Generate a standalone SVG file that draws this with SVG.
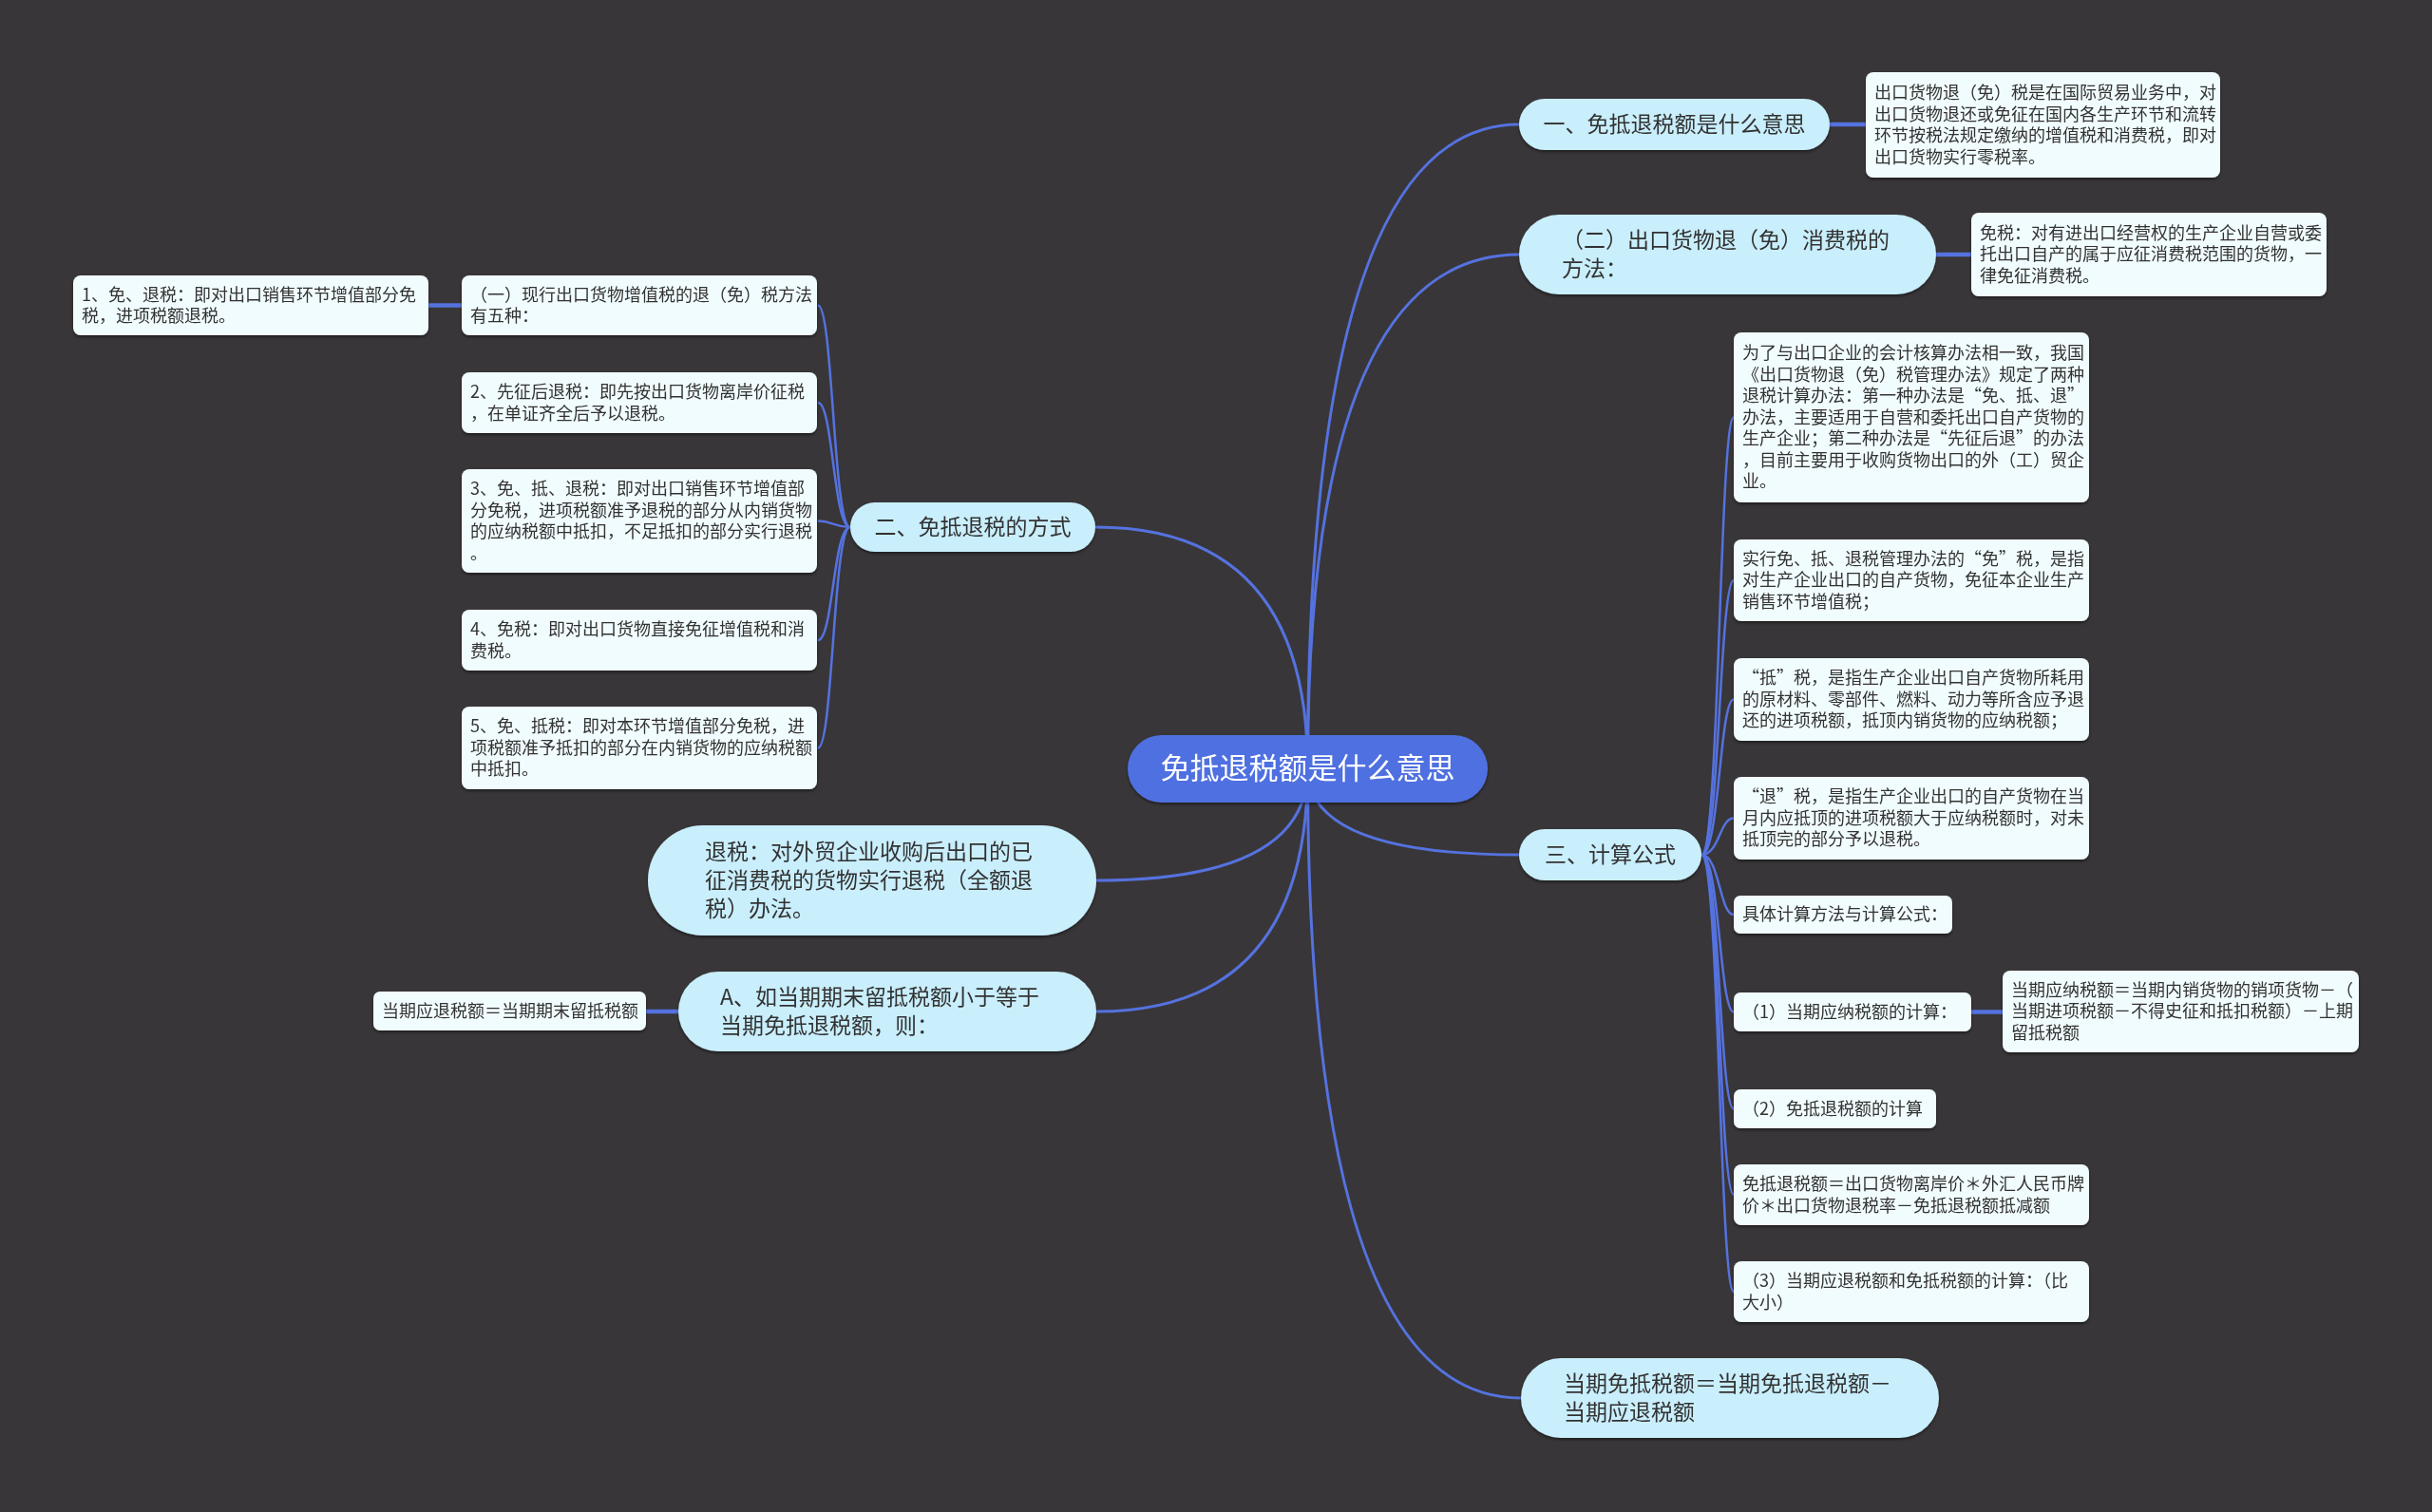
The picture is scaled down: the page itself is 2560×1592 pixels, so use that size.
<svg xmlns="http://www.w3.org/2000/svg" width="2560" height="1592" viewBox="0 0 2560 1592">
<style>
text{font-family:"Noto Sans CJK SC","Noto Sans",sans-serif;fill:#333333}
.root rect{fill:#4f6fe0}
.root text{fill:#ffffff;font-size:31px}
.l1 rect{fill:#c9eefc}
.l1 text{font-size:23px}
.note rect{fill:#f1fcfe}
.note text{font-size:18px}
.nd{filter:url(#sh)}
.e0{fill:none;stroke:#5572df;stroke-width:3}
.e1{fill:none;stroke:#5572df;stroke-width:2.5}
.e2{fill:none;stroke:#5572df;stroke-width:4.5}
</style>
<defs>
<filter id="sh" x="-5%" y="-10%" width="110%" height="130%">
<feDropShadow dx="0" dy="2" stdDeviation="1.5" flood-color="#000" flood-opacity="0.45"/>
</filter>
</defs>
<rect x="0" y="0" width="2560" height="1592" fill="#383638"/>
<g id="connectors">
<path class="e0" d="M1376.5,809.5 Q1376.5,131 1599,131"/>
<path class="e0" d="M1376.5,809.5 Q1376.5,268 1599,268"/>
<path class="e0" d="M1376.5,809.5 Q1376.5,900 1599,900"/>
<path class="e0" d="M1376.5,809.5 Q1376.5,1472 1601,1472"/>
<path class="e0" d="M1376.5,809.5 Q1376.5,555 1153,555"/>
<path class="e0" d="M1376.5,809.5 Q1376.5,927 1154,927"/>
<path class="e0" d="M1376.5,809.5 Q1376.5,1065 1154,1065"/>
<path class="e1" d="M1791,900 C1810,900 1810,439.5 1825,439.5"/>
<path class="e1" d="M1791,900 C1810,900 1810,611 1825,611"/>
<path class="e1" d="M1791,900 C1810,900 1810,736.5 1825,736.5"/>
<path class="e1" d="M1791,900 C1810,900 1810,861.5 1825,861.5"/>
<path class="e1" d="M1791,900 C1810,900 1810,963 1825,963"/>
<path class="e1" d="M1791,900 C1810,900 1810,1065.5 1825,1065.5"/>
<path class="e1" d="M1791,900 C1810,900 1810,1167.5 1825,1167.5"/>
<path class="e1" d="M1791,900 C1810,900 1810,1258 1825,1258"/>
<path class="e1" d="M1791,900 C1810,900 1810,1360 1825,1360"/>
<path class="e1" d="M895,555 C877,555 877,321.5 861,321.5"/>
<path class="e1" d="M895,555 C877,555 877,424 861,424"/>
<path class="e1" d="M895,555 C877,555 877,548.5 861,548.5"/>
<path class="e1" d="M895,555 C877,555 877,674 861,674"/>
<path class="e1" d="M895,555 C877,555 877,787.5 861,787.5"/>
<path class="e2" d="M1926,131 L1964,131"/>
<path class="e2" d="M2038,268 L2075,268"/>
<path class="e2" d="M2075,1065.5 L2108,1065.5"/>
<path class="e2" d="M486,321.5 L451,321.5"/>
<path class="e2" d="M714,1065 L680,1065"/>
</g>
<g id="root" class="root nd">
<rect x="1187" y="774" width="379" height="71" rx="35.5"/>
<text x="1376.5" y="820" text-anchor="middle">免抵退税额是什么意思</text>
</g>
<g id="n1" class="l1 nd">
<rect x="1599" y="104" width="327" height="54" rx="27"/>
<text x="1762.5" y="139" text-anchor="middle">一、免抵退税额是什么意思</text>
</g>
<g id="n1a" class="note nd">
<rect x="1964" y="76" width="373" height="111" rx="8"/>
<text><tspan x="1973" y="104">出口货物退（免）税是在国际贸易业务中，对</tspan><tspan x="1973" y="126.5">出口货物退还或免征在国内各生产环节和流转</tspan><tspan x="1973" y="149">环节按税法规定缴纳的增值税和消费税，即对</tspan><tspan x="1973" y="171.5">出口货物实行零税率。</tspan></text>
</g>
<g id="n2" class="l1 nd">
<rect x="1599" y="226" width="439" height="84" rx="42"/>
<text><tspan x="1644" y="261">（二）出口货物退（免）消费税的</tspan><tspan x="1644" y="291">方法：</tspan></text>
</g>
<g id="n2a" class="note nd">
<rect x="2075" y="224" width="374" height="88" rx="8"/>
<text><tspan x="2084" y="251.8">免税：对有进出口经营权的生产企业自营或委</tspan><tspan x="2084" y="274.3">托出口自产的属于应征消费税范围的货物，一</tspan><tspan x="2084" y="296.8">律免征消费税。</tspan></text>
</g>
<g id="n3" class="l1 nd">
<rect x="1599" y="873" width="192" height="54" rx="27"/>
<text x="1695" y="908" text-anchor="middle">三、计算公式</text>
</g>
<g id="c1" class="note nd">
<rect x="1825" y="350" width="374" height="179" rx="8"/>
<text><tspan x="1834" y="378.3">为了与出口企业的会计核算办法相一致，我国</tspan><tspan x="1834" y="400.8">《出口货物退（免）税管理办法》规定了两种</tspan><tspan x="1834" y="423.3">退税计算办法：第一种办法是“免、抵、退”</tspan><tspan x="1834" y="445.8">办法，主要适用于自营和委托出口自产货物的</tspan><tspan x="1834" y="468.3">生产企业；第二种办法是“先征后退”的办法</tspan><tspan x="1834" y="490.8">，目前主要用于收购货物出口的外（工）贸企</tspan><tspan x="1834" y="513.3">业。</tspan></text>
</g>
<g id="c2" class="note nd">
<rect x="1825" y="568" width="374" height="86" rx="8"/>
<text><tspan x="1834" y="594.8">实行免、抵、退税管理办法的“免”税，是指</tspan><tspan x="1834" y="617.3">对生产企业出口的自产货物，免征本企业生产</tspan><tspan x="1834" y="639.8">销售环节增值税；</tspan></text>
</g>
<g id="c3" class="note nd">
<rect x="1825" y="693" width="374" height="87" rx="8"/>
<text><tspan x="1834" y="720.3">“抵”税，是指生产企业出口自产货物所耗用</tspan><tspan x="1834" y="742.8">的原材料、零部件、燃料、动力等所含应予退</tspan><tspan x="1834" y="765.3">还的进项税额，抵顶内销货物的应纳税额；</tspan></text>
</g>
<g id="c4" class="note nd">
<rect x="1825" y="818" width="374" height="87" rx="8"/>
<text><tspan x="1834" y="845.3">“退”税，是指生产企业出口的自产货物在当</tspan><tspan x="1834" y="867.8">月内应抵顶的进项税额大于应纳税额时，对未</tspan><tspan x="1834" y="890.3">抵顶完的部分予以退税。</tspan></text>
</g>
<g id="c5" class="note nd">
<rect x="1825" y="943" width="230" height="40" rx="7"/>
<text x="1834" y="969.3">具体计算方法与计算公式：</text>
</g>
<g id="c6" class="note nd">
<rect x="1825" y="1045" width="250" height="41" rx="7"/>
<text x="1834" y="1071.8">（1）当期应纳税额的计算：</text>
</g>
<g id="c6a" class="note nd">
<rect x="2108" y="1022" width="375" height="86" rx="8"/>
<text><tspan x="2117" y="1048.8">当期应纳税额＝当期内销货物的销项货物－（</tspan><tspan x="2117" y="1071.3">当期进项税额－不得史征和抵扣税额）－上期</tspan><tspan x="2117" y="1093.8">留抵税额</tspan></text>
</g>
<g id="c7" class="note nd">
<rect x="1825" y="1147" width="213" height="41" rx="7"/>
<text x="1834" y="1173.8">（2）免抵退税额的计算</text>
</g>
<g id="c8" class="note nd">
<rect x="1825" y="1226" width="374" height="64" rx="8"/>
<text><tspan x="1834" y="1253">免抵退税额＝出口货物离岸价＊外汇人民币牌</tspan><tspan x="1834" y="1275.5">价＊出口货物退税率－免抵退税额抵减额</tspan></text>
</g>
<g id="c9" class="note nd">
<rect x="1825" y="1328" width="374" height="64" rx="8"/>
<text><tspan x="1834" y="1355">（3）当期应退税额和免抵税额的计算：（比</tspan><tspan x="1834" y="1377.5">大小）</tspan></text>
</g>
<g id="n4" class="l1 nd">
<rect x="1601" y="1430" width="440" height="84" rx="42"/>
<text><tspan x="1646" y="1465">当期免抵税额＝当期免抵退税额－</tspan><tspan x="1646" y="1495">当期应退税额</tspan></text>
</g>
<g id="n5" class="l1 nd">
<rect x="895" y="529" width="258" height="52" rx="26"/>
<text x="1024" y="563" text-anchor="middle">二、免抵退税的方式</text>
</g>
<g id="l1" class="note nd">
<rect x="486" y="290" width="374" height="63" rx="8"/>
<text><tspan x="495" y="316.5">（一）现行出口货物增值税的退（免）税方法</tspan><tspan x="495" y="339">有五种：</tspan></text>
</g>
<g id="l1a" class="note nd">
<rect x="77" y="290" width="374" height="63" rx="8"/>
<text><tspan x="86" y="316.5">1、免、退税：即对出口销售环节增值部分免</tspan><tspan x="86" y="339">税，进项税额退税。</tspan></text>
</g>
<g id="l2" class="note nd">
<rect x="486" y="392" width="374" height="64" rx="8"/>
<text><tspan x="495" y="419">2、先征后退税：即先按出口货物离岸价征税</tspan><tspan x="495" y="441.5">，在单证齐全后予以退税。</tspan></text>
</g>
<g id="l3" class="note nd">
<rect x="486" y="494" width="374" height="109" rx="8"/>
<text><tspan x="495" y="521.1">3、免、抵、退税：即对出口销售环节增值部</tspan><tspan x="495" y="543.6">分免税，进项税额准予退税的部分从内销货物</tspan><tspan x="495" y="566.1">的应纳税额中抵扣，不足抵扣的部分实行退税</tspan><tspan x="495" y="588.6">。</tspan></text>
</g>
<g id="l4" class="note nd">
<rect x="486" y="642" width="374" height="64" rx="8"/>
<text><tspan x="495" y="669">4、免税：即对出口货物直接免征增值税和消</tspan><tspan x="495" y="691.5">费税。</tspan></text>
</g>
<g id="l5" class="note nd">
<rect x="486" y="744" width="374" height="87" rx="8"/>
<text><tspan x="495" y="771.3">5、免、抵税：即对本环节增值部分免税，进</tspan><tspan x="495" y="793.8">项税额准予抵扣的部分在内销货物的应纳税额</tspan><tspan x="495" y="816.3">中抵扣。</tspan></text>
</g>
<g id="n6" class="l1 nd">
<rect x="682" y="869" width="472" height="116" rx="58"/>
<text><tspan x="742" y="905">退税：对外贸企业收购后出口的已</tspan><tspan x="742" y="935">征消费税的货物实行退税（全额退</tspan><tspan x="742" y="965">税）办法。</tspan></text>
</g>
<g id="n7" class="l1 nd">
<rect x="714" y="1023" width="440" height="84" rx="42"/>
<text><tspan x="758" y="1058">A、如当期期末留抵税额小于等于</tspan><tspan x="758" y="1088">当期免抵退税额，则：</tspan></text>
</g>
<g id="n7a" class="note nd">
<rect x="393" y="1044" width="287" height="41" rx="7"/>
<text x="402" y="1070.8">当期应退税额＝当期期末留抵税额</text>
</g>
</svg>
